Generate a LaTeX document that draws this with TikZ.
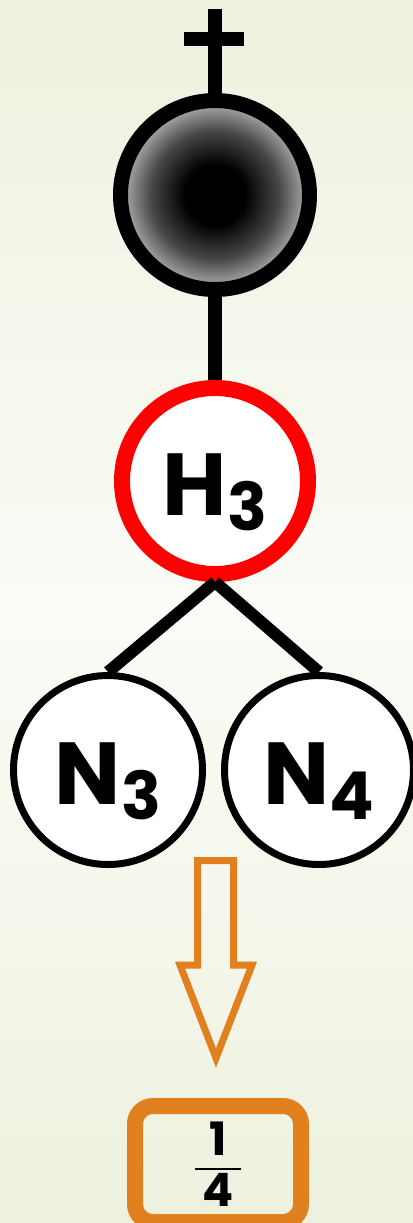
\documentclass[tikz,border=0pt]{standalone}
\usepackage{fontspec}
\setmainfont{Poppins}
\usepackage{tikz}
\usetikzlibrary{positioning}
\definecolor{bgedge}{HTML}{EDF1DE}
\definecolor{bgmid}{HTML}{FBFCF7}
\definecolor{hollowor}{HTML}{E0801E}
\pgfdeclareradialshading{coreball}{\pgfpoint{0bp}{0bp}}{color(0bp)=(black); color(8bp)=(black); color(17bp)=(black!72); color(24bp)=(black!34); color(50bp)=(black!34)}
\newcommand{\atomlbl}[2]{#1\raisebox{-7.5pt}{\fontsize{33}{33}\selectfont #2}}

\begin{document}
\begin{tikzpicture}[x=0.5pt, y=-0.5pt, font=\fontsize{44}{44}\selectfont\bfseries,
  atom/.style={circle, draw, fill=white, inner sep=0pt, text height=34pt, text depth=0pt},
  bond/.style={line width=#1},
  bond/.default=7pt]
  \useasboundingbox (0,0) rectangle (413,1223);
  \shade[top color=bgedge, bottom color=bgedge, middle color=bgmid] (0,0) rectangle (413,1223);

  \node[atom, shade, shading=coreball, line width=7.5pt, minimum size=94.5pt] (core) at (215,195) {};
  \coordinate (crosstop) at (215,9);
  \coordinate (armL) at (184,39);
  \coordinate (armR) at (244,39);
  \draw[bond] (crosstop) -- (core.north);
  \draw[bond] (armL) -- (armR);

  \node[atom, draw=red, line width=8pt, minimum size=93pt] (h3) at (215,481) {\atomlbl{H}{3}};
  \node[atom, line width=3.5pt, minimum size=94.5pt] (n3) at (108,770) {\atomlbl{N}{3}};
  \node[atom, line width=3.5pt, minimum size=94.5pt] (n4) at (319,770) {\atomlbl{N}{4}};
  \draw[bond] (core) -- (h3);
  \draw[bond=6pt] (h3.south) -- (n3.north);
  \draw[bond=6pt] (h3.south) -- (n4.north);

  % hollow arrow
  \draw[hollowor, line width=3.5pt]
    (197.5,860.5) -- (233.5,860.5) -- (233.5,965) -- (252,965) -- (216,1058)
    -- (180,965) -- (197.5,965) -- cycle;

  \node[draw=hollowor, line width=8pt, rounded corners=9pt, minimum width=83pt,
    minimum height=58pt, inner sep=0pt, align=center, font=\fontsize{23}{23}\selectfont\bfseries]
    (quarter) at (218,1164) {1\\[-15.5pt]\rule{23pt}{1pt}\\[-5pt]4};
\end{tikzpicture}
\end{document}
